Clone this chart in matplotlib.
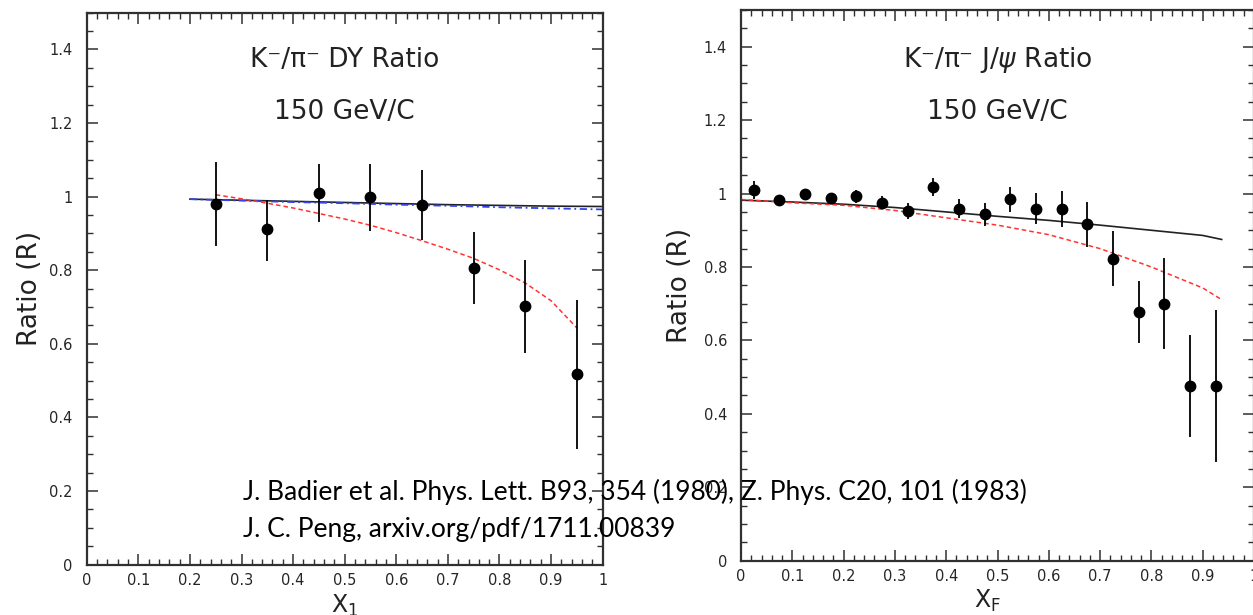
import matplotlib
matplotlib.use("Agg")
import matplotlib.pyplot as plt
from matplotlib.ticker import MultipleLocator, FuncFormatter

plt.rcParams['mathtext.fontset'] = 'dejavusans'

# ---- Left panel: Drell-Yan K-/pi- ratio (150 GeV/c) ----
dy_x = [0.25, 0.35, 0.45, 0.55, 0.65, 0.75, 0.85, 0.95]
dy_y = [0.980, 0.911, 1.010, 0.998, 0.978, 0.807, 0.702, 0.517]
dy_err_hi = [0.114, 0.079, 0.078, 0.090, 0.095, 0.098, 0.127, 0.202]
dy_err_lo = [0.114, 0.086, 0.080, 0.091, 0.096, 0.099, 0.127, 0.203]

dy_curve_x = [0.2, 0.3, 0.4, 0.5, 0.6, 0.7, 0.8, 0.9, 1.0]
dy_black = [0.993, 0.990, 0.987, 0.984, 0.981, 0.978, 0.976, 0.974, 0.973]
dy_blue = [0.993, 0.989, 0.985, 0.982, 0.978, 0.975, 0.971, 0.968, 0.965]

dy_red_x = [0.25, 0.30, 0.35, 0.40, 0.45, 0.50, 0.55, 0.60, 0.65, 0.70, 0.75, 0.80, 0.85, 0.90, 0.95]
dy_red = [1.005, 0.994, 0.982, 0.969, 0.954, 0.939, 0.922, 0.902, 0.880, 0.857, 0.832, 0.801, 0.765, 0.717, 0.643]

# ---- Right panel: J/psi K-/pi- ratio (150 GeV/c) ----
jp_x = [0.025, 0.075, 0.125, 0.175, 0.225, 0.275, 0.325, 0.375, 0.425, 0.475,
        0.525, 0.575, 0.625, 0.675, 0.725, 0.775, 0.825, 0.875, 0.925]
jp_y = [1.009, 0.982, 0.999, 0.989, 0.993, 0.975, 0.953, 1.018, 0.959, 0.943,
        0.984, 0.959, 0.957, 0.916, 0.823, 0.677, 0.700, 0.476, 0.476]
jp_err = [0.024, 0.012, 0.012, 0.013, 0.018, 0.018, 0.022, 0.025, 0.025, 0.030,
          0.034, 0.042, 0.049, 0.061, 0.075, 0.085, 0.124, 0.138, 0.208]

jp_curve_x = [0.0, 0.1, 0.2, 0.3, 0.4, 0.5, 0.6, 0.7, 0.8, 0.9, 0.937]
jp_black = [0.982, 0.977, 0.971, 0.962, 0.950, 0.938, 0.927, 0.914, 0.900, 0.886, 0.875]
jp_red = [0.984, 0.975, 0.968, 0.954, 0.934, 0.914, 0.888, 0.850, 0.800, 0.743, 0.711]

# ---- Texts ----
left_title = "K⁻/π⁻ DY Ratio"
right_title = r"K⁻/π⁻ J/$\psi$ Ratio"
energy_text = "150 GeV/C"
ylabel_text = "Ratio (R)"
left_xlabel = r"X$_{\mathrm{1}}$"
right_xlabel = r"X$_{\mathrm{F}}$"
cite_lines = ["J. Badier et al. Phys. Lett. B93, 354 (1980), Z. Phys. C20, 101 (1983)",
              "J. C. Peng, arxiv.org/pdf/1711.00839"]

W, H = 1253, 615
fig = plt.figure(figsize=(W / 100, H / 100), dpi=100)

ax1 = fig.add_axes([86.7 / W, (H - 564.7) / H, (602.7 - 86.7) / W, (564.7 - 12.5) / H])
ax2 = fig.add_axes([741 / W, (H - 560.7) / H, (1254 - 741) / W, (560.7 - 10) / H])

spine_col = '#303030'
label_col = '#262626'
text_col = '#222222'


def fmt(v, pos):
    if abs(v) < 1e-9:
        return "0"
    if abs(v - round(v)) < 1e-9:
        return "%d" % round(v)
    return "%.1f" % v


for ax in (ax1, ax2):
    ax.set_xlim(0, 1)
    ax.set_ylim(0, 1.5)
    ax.xaxis.set_major_locator(MultipleLocator(0.1))
    ax.xaxis.set_minor_locator(MultipleLocator(0.02))
    ax.yaxis.set_major_locator(MultipleLocator(0.2))
    ax.yaxis.set_minor_locator(MultipleLocator(0.05))
    ax.xaxis.set_major_formatter(FuncFormatter(fmt))
    ax.yaxis.set_major_formatter(FuncFormatter(fmt))
    ax.tick_params(which='both', direction='in', top=True, right=True,
                   colors=spine_col, labelcolor=label_col, labelsize=10.5)
    ax.tick_params(which='major', length=8, width=1.1)
    ax.tick_params(which='minor', length=4, width=1.0)
    ax.tick_params(axis='x', pad=6)
    ax.tick_params(axis='y', pad=10)
    for s in ax.spines.values():
        s.set_color(spine_col)
        s.set_linewidth(1.6)
    ax.set_ylabel(ylabel_text, fontsize=19, color=text_col)

ax1.yaxis.set_label_coords(-0.085, 0.5)
ax2.yaxis.set_label_coords(-0.094, 0.5)

# Left panel drawing
ax1.plot(dy_curve_x, dy_black, color='#222222', lw=1.2, zorder=2)
ax1.plot(dy_curve_x, dy_blue, color='#3344ee', lw=1.3, ls=(0, (4, 2, 1, 2)), zorder=2)
ax1.plot(dy_red_x, dy_red, color='#ff3333', lw=1.1, ls=(0, (3, 2)), zorder=2)
ax1.errorbar(dy_x, dy_y, yerr=[dy_err_lo, dy_err_hi], fmt='o', color='black',
             ms=7.5, elinewidth=1.3, capsize=0, zorder=3)
ax1.text(0.5, 1.371, left_title, ha='center', va='center', fontsize=19, color=text_col)
ax1.text(0.5, 1.230, energy_text, ha='center', va='center', fontsize=19, color=text_col)
ax1.set_xlabel(left_xlabel, fontsize=17, color=text_col)
ax1.xaxis.set_label_coords(0.5, -0.05)

# Right panel drawing
ax2.plot(jp_curve_x, jp_black, color='#222222', lw=1.2, zorder=2)
ax2.plot(jp_curve_x, jp_red, color='#ff3333', lw=1.1, ls=(0, (3, 2)), zorder=2)
ax2.errorbar(jp_x, jp_y, yerr=jp_err, fmt='o', color='black',
             ms=7.5, elinewidth=1.3, capsize=0, zorder=3)
ax2.text(0.5, 1.364, right_title, ha='center', va='center', fontsize=19, color=text_col)
ax2.text(0.5, 1.223, energy_text, ha='center', va='center', fontsize=19, color=text_col)
ax2.set_xlabel(right_xlabel, fontsize=17, color=text_col)
ax2.xaxis.set_label_coords(0.48, -0.05)

# Citation text overlaid across both panels
fig.text(243 / W, 1 - 492 / H, cite_lines[0], ha='left', va='center',
         fontsize=19, family=['Lato', 'DejaVu Sans'], color='black', zorder=10)
fig.text(243 / W, 1 - 530 / H, cite_lines[1], ha='left', va='center',
         fontsize=19, family=['Lato', 'DejaVu Sans'], color='black', zorder=10)

fig.savefig("out.png", dpi=100)
